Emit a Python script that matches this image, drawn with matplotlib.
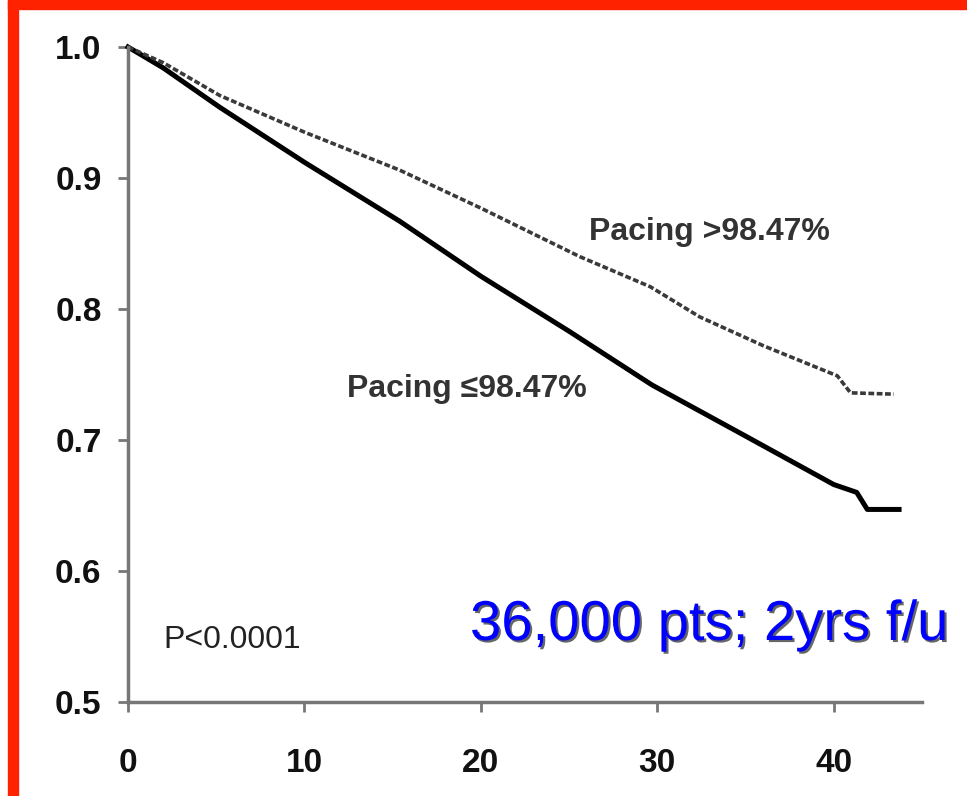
import matplotlib
matplotlib.use("Agg")
import matplotlib.pyplot as plt
import matplotlib.patheffects as pe
from matplotlib.patches import Rectangle

# Data
months_low = [0, 2, 5.2, 10, 15.4, 20, 25, 29.7, 35, 40, 41.3, 41.9, 43.7]
surv_low = [1.0, 0.984, 0.954, 0.912, 0.867, 0.825, 0.783, 0.742, 0.703, 0.666, 0.660, 0.647, 0.647]

months_high = [0, 2, 5.2, 10, 15.4, 20, 25.6, 29.6, 32.4, 36, 40.2, 40.95, 43.4]
surv_high = [1.0, 0.988, 0.963, 0.935, 0.906, 0.877, 0.840, 0.817, 0.794, 0.772, 0.749, 0.736, 0.735]

x_ticks = [0, 10, 20, 30, 40]
y_ticks = [0.5, 0.6, 0.7, 0.8, 0.9, 1.0]
y_tick_labels = ["0.5", "0.6", "0.7", "0.8", "0.9", "1.0"]

label_high = "Pacing >98.47%"
label_low = "Pacing \u226498.47%"
p_text = "P<0.0001"
note_text = "36,000 pts; 2yrs f/u"

plt.rcParams['font.family'] = ['Liberation Sans', 'DejaVu Sans']

fig = plt.figure(figsize=(9.67, 7.96), dpi=100)
ax = fig.add_axes([128/967, 1-702/796, (922-128)/967, (702-47)/796])

ax.plot(months_low, surv_low, color='black', lw=3.6, solid_joinstyle='round', clip_on=False)
ax.plot(months_high, surv_high, color='#3a3a3a', lw=2.6, linestyle=(0, (1.6, 0.7)), clip_on=False)

ax.set_xlim(0, 45)
ax.set_ylim(0.5, 1.0)
ax.set_xticks(x_ticks)
ax.set_yticks(y_ticks)
ax.set_yticklabels(y_tick_labels)
for s in ['top', 'right']:
    ax.spines[s].set_visible(False)
for s in ['left', 'bottom']:
    ax.spines[s].set_color('#777777')
    ax.spines[s].set_linewidth(2.5)
ax.tick_params(axis='both', direction='out', length=7, width=2, color='#777777',
               labelsize=24, labelcolor='#111111')
ax.tick_params(axis='x', pad=26)
ax.tick_params(axis='y', pad=12)
for lab in ax.get_xticklabels() + ax.get_yticklabels():
    lab.set_fontweight('bold')

ax.text(26.1, 0.853, label_high, fontsize=23, fontweight='bold', color='#333333', ha='left', va='baseline')
ax.text(12.4, 0.733, label_low, fontsize=23, fontweight='bold', color='#333333', ha='left', va='baseline')
ax.text(2.0, 0.541, p_text, fontsize=23, color='#222222', ha='left', va='baseline')

txt = fig.text(470/967, 1-640/796, note_text, fontsize=40.5, color='#0000FF', ha='left', va='baseline')
txt.set_path_effects([pe.SimplePatchShadow(offset=(1.5, -1.5), shadow_rgbFace='black', alpha=0.6), pe.Normal()])

# red frame
fig.patches.append(Rectangle((8/967, 0), 10/967, 1, transform=fig.transFigure, color='#FF2200', zorder=10))
fig.patches.append(Rectangle((8/967, 1-9/796), 1, 9/796, transform=fig.transFigure, color='#FF2200', zorder=10))

fig.savefig("out.png", dpi=100)
